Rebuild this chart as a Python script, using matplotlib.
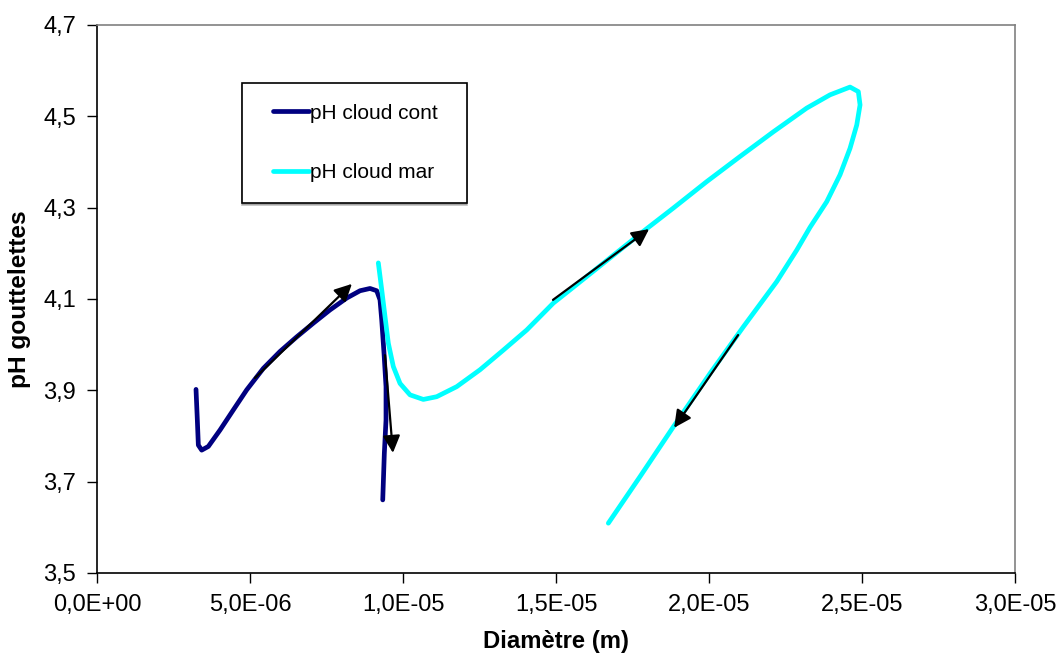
import matplotlib
matplotlib.use("Agg")
import matplotlib.pyplot as plt
from matplotlib.ticker import FuncFormatter
from matplotlib.legend_handler import HandlerLine2D

plt.rcParams['font.family'] = ['Liberation Sans', 'DejaVu Sans']

# pH cloud cont (diameter in m, pH)
cont_d = [3.235e-6, 3.278e-6, 3.311e-6, 3.421e-6, 3.637e-6, 4.020e-6, 4.454e-6,
          4.892e-6, 5.435e-6, 5.980e-6, 6.526e-6, 7.069e-6, 7.614e-6, 8.160e-6,
          8.595e-6, 8.922e-6, 9.140e-6, 9.248e-6, 9.304e-6, 9.379e-6, 9.444e-6,
          9.444e-6, 9.389e-6, 9.337e-6]
cont_ph = [3.902, 3.835, 3.780, 3.769, 3.777, 3.813, 3.857,
           3.901, 3.948, 3.985, 4.017, 4.047, 4.076, 4.102,
           4.118, 4.123, 4.118, 4.098, 4.054, 3.981, 3.908,
           3.835, 3.762, 3.660]

# pH cloud mar
mar_d = [9.193e-6, 9.304e-6, 9.412e-6, 9.520e-6, 9.683e-6, 9.902e-6, 1.0229e-5,
         1.0663e-5, 1.1101e-5, 1.1755e-5, 1.2516e-5, 1.3278e-5, 1.4042e-5,
         1.4912e-5, 1.5458e-5, 1.7908e-5, 1.8833e-5, 1.9925e-5, 2.1013e-5,
         2.2101e-5, 2.3193e-5, 2.3954e-5, 2.4608e-5, 2.4879e-5, 2.4935e-5,
         2.4827e-5, 2.4608e-5, 2.4281e-5, 2.3846e-5, 2.3301e-5, 2.2866e-5,
         2.2212e-5, 2.1121e-5, 2.0033e-5, 1.8833e-5, 1.7745e-5, 1.6709e-5]
mar_ph = [4.179, 4.120, 4.061, 4.003, 3.952, 3.915, 3.890,
          3.880, 3.886, 3.908, 3.945, 3.988, 4.032,
          4.091, 4.120, 4.251, 4.299, 4.357, 4.412,
          4.466, 4.518, 4.547, 4.564, 4.554, 4.525,
          4.481, 4.430, 4.372, 4.313, 4.257, 4.207,
          4.138, 4.039, 3.937, 3.820, 3.711, 3.609]

# arrows: (start_d, start_ph, end_d, end_ph)
arrows = [
    (5.16e-6, 3.927, 8.33e-6, 4.133),
    (9.41e-6, 3.977, 9.67e-6, 3.763),
    (1.490e-5, 4.098, 1.804e-5, 4.253),
    (2.095e-5, 4.021, 1.886e-5, 3.818),
]

fig = plt.figure(figsize=(10.58, 6.57), dpi=100)
ax = fig.add_axes([0.0917, 0.1279, 0.8677, 0.8341])

ax.plot(cont_d, cont_ph, color='#000080', lw=3.4, label='pH cloud cont',
        solid_capstyle='round', solid_joinstyle='round')
ax.plot(mar_d, mar_ph, color='#00FFFF', lw=3.4, label='pH cloud mar',
        solid_capstyle='round', solid_joinstyle='round')

for x0, y0, x1, y1 in arrows:
    ax.annotate('', xy=(x1, y1), xytext=(x0, y0),
                arrowprops=dict(arrowstyle='-|>', color='black', lw=1.6,
                                mutation_scale=26, shrinkA=0, shrinkB=0),
                zorder=5)

ax.set_xlim(0, 3.0e-5)
ax.set_ylim(3.5, 4.7)
ax.set_xticks([0, 5e-6, 1e-5, 1.5e-5, 2e-5, 2.5e-5, 3e-5])
ax.set_yticks([3.5, 3.7, 3.9, 4.1, 4.3, 4.5, 4.7])


def xfmt(v, pos):
    s = '%.1E' % v
    return s.replace('.', ',')


def yfmt(v, pos):
    return ('%.1f' % v).replace('.', ',')


ax.xaxis.set_major_formatter(FuncFormatter(xfmt))
ax.yaxis.set_major_formatter(FuncFormatter(yfmt))
ax.tick_params(direction='out', length=7, width=1, labelsize=17, pad=8)

for side in ['top', 'right']:
    ax.spines[side].set_color('#808080')
    ax.spines[side].set_linewidth(1.2)
for side in ['left', 'bottom']:
    ax.spines[side].set_color('black')
    ax.spines[side].set_linewidth(1.2)

ax.set_xlabel('Diamètre (m)', fontsize=17.2, fontweight='bold', labelpad=10)
ax.set_ylabel('pH gouttelettes', fontsize=17.6, fontweight='bold', labelpad=9)

leg = ax.legend(loc='upper left', bbox_to_anchor=(0.158, 0.672, 0.2451, 0.2222),
                mode='expand', fontsize=15,
                frameon=True, fancybox=False, edgecolor='black', framealpha=1,
                handlelength=2.2, handletextpad=0.05, borderpad=1.0,
                labelspacing=1.95, borderaxespad=0,
                handler_map={plt.Line2D: HandlerLine2D(xpad=0.48)},
                shadow={'color': '#808080', 'ox': 0, 'oy': -1.5})
leg.get_frame().set_linewidth(1.2)

fig.savefig('out.png', dpi=100)
